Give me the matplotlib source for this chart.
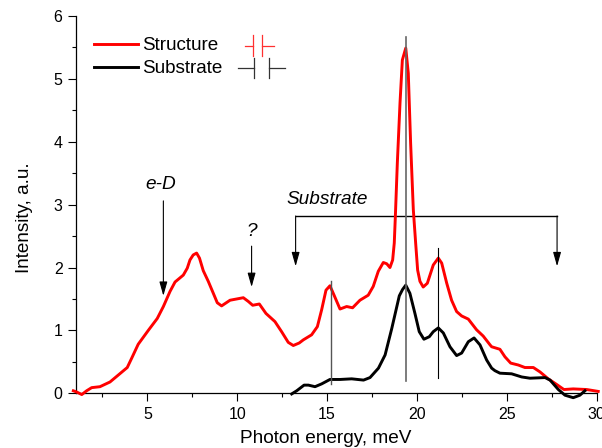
import matplotlib
matplotlib.use("Agg")
import matplotlib.pyplot as plt
from matplotlib.ticker import MultipleLocator

plt.rcParams['font.family'] = ['Liberation Sans', 'DejaVu Sans']

structure_x = [0.88, 1.07, 1.35, 1.62, 1.90, 2.36, 2.92, 3.38, 3.88, 4.13, 4.49, 5.05, 5.55, 5.89, 6.26, 6.54, 7.00, 7.22,
               7.37, 7.55, 7.74, 7.90, 8.11, 8.39, 8.67, 8.89, 9.13, 9.60, 9.97, 10.34, 10.62, 10.86, 11.23, 11.60, 12.10,
               12.47, 12.84, 13.12, 13.45, 13.68, 14.14, 14.46, 14.70, 14.94, 15.16, 15.39, 15.72, 16.09, 16.42, 16.83,
               17.29, 17.57, 17.85, 18.13, 18.32, 18.50, 18.65, 18.74, 18.80, 18.91, 19.06, 19.19, 19.38, 19.52, 19.65,
               19.80, 19.93, 20.04, 20.17, 20.35, 20.58, 20.91, 21.19, 21.38, 21.66, 21.93, 22.21, 22.49, 22.86, 23.32,
               23.69, 24.07, 24.16, 24.62, 24.90, 25.22, 25.64, 26.01, 26.48, 26.85, 27.31, 27.78, 28.18, 28.70, 29.45, 30.09]
structure_y = [0.04, 0.02, -0.02, 0.04, 0.09, 0.105, 0.18, 0.29, 0.41, 0.56, 0.78, 1.00, 1.19, 1.38, 1.62, 1.77, 1.88, 1.99,
               2.12, 2.20, 2.23, 2.15, 1.95, 1.78, 1.59, 1.44, 1.39, 1.48, 1.50, 1.52, 1.46, 1.40, 1.42, 1.27, 1.14,
               0.98, 0.81, 0.76, 0.80, 0.85, 0.93, 1.06, 1.33, 1.64, 1.71, 1.56, 1.34, 1.38, 1.36, 1.48,
               1.56, 1.70, 1.94, 2.08, 2.06, 2.00, 2.12, 2.39, 2.81, 3.66, 4.62, 5.30, 5.49, 5.09, 3.98,
               2.92, 2.39, 1.96, 1.78, 1.69, 1.75, 2.04, 2.15, 2.07, 1.75, 1.48, 1.30, 1.23, 1.18, 1.01,
               0.91, 0.77, 0.74, 0.70, 0.58, 0.48, 0.45, 0.41, 0.41, 0.34, 0.23, 0.14, 0.06, 0.07, 0.06, 0.03]
substrate_x = [13.03, 13.31, 13.72, 13.96, 14.33, 14.70, 15.16, 15.72, 16.37, 17.03, 17.39, 17.86, 18.23, 18.60, 19.02,
               19.20, 19.38, 19.61, 19.89, 20.13, 20.39, 20.69, 20.91, 21.19, 21.47, 21.84, 22.21, 22.49, 22.86, 23.18,
               23.51, 23.88, 24.16, 24.34, 24.62, 25.27, 25.83, 26.29, 27.13, 27.41, 27.87, 28.24, 28.70, 29.07, 29.35]
substrate_y = [-0.01, 0.04, 0.13, 0.13, 0.105, 0.15, 0.22, 0.22, 0.23, 0.21, 0.25, 0.40, 0.61, 1.03, 1.55,
               1.65, 1.72, 1.59, 1.27, 0.98, 0.86, 0.90, 0.98, 1.04, 0.96, 0.74, 0.60, 0.64, 0.82, 0.88,
               0.77, 0.53, 0.40, 0.36, 0.32, 0.31, 0.26, 0.24, 0.25, 0.21, 0.06, -0.03, -0.07, -0.03, 0.04]

x_ticks = [5, 10, 15, 20, 25, 30]
y_ticks = [0, 1, 2, 3, 4, 5, 6]

W, H = 602, 448
fig = plt.figure(figsize=(W / 100, H / 100), dpi=100)
ax = fig.add_axes([75.5 / W, 1 - 393.3 / H, (596.6 - 75.5) / W, (393.3 - 16) / H])
ax.set_xlim(1, 30)
ax.set_ylim(0, 6)

for s in ('top', 'right'):
    ax.spines[s].set_visible(False)
for s in ('left', 'bottom'):
    ax.spines[s].set_linewidth(0.9)

ax.set_xticks(x_ticks)
ax.set_yticks(y_ticks)
ax.xaxis.set_minor_locator(MultipleLocator(2.5))
ax.yaxis.set_minor_locator(MultipleLocator(0.5))
ax.tick_params(which='major', length=5.8, width=0.8, labelsize=11.5, pad=3.5)
ax.tick_params(axis='x', which='major', pad=3.8)
ax.tick_params(which='minor', length=3, width=0.8)

ax.set_xlabel('Photon energy, meV', fontsize=13.7, labelpad=6, x=0.481)
ax.set_ylabel('Intensity, a.u.', fontsize=13.6, labelpad=15, y=0.465)

ax.plot(structure_x, structure_y, color='#ff0000', lw=2.1, clip_on=False, zorder=3, solid_joinstyle='round')
ax.plot(substrate_x, substrate_y, color='black', lw=2.1, clip_on=False, zorder=4, solid_joinstyle='round')

# thin marker lines
ax.plot([15.22, 15.22], [0.15, 1.79], color='#555555', lw=1.0, zorder=5, clip_on=False)
ax.plot([19.39, 19.39], [0.2, 5.67], color='#666666', lw=1.2, zorder=5, clip_on=False)
ax.plot([21.2, 21.2], [0.24, 2.31], color='black', lw=0.8, zorder=5, clip_on=False)

# arrows
def arrow(x, y0, y1):
    ax.annotate('', xy=(x, y1), xytext=(x, y0),
                arrowprops=dict(arrowstyle='-|>,head_length=0.85,head_width=0.24', color='black', lw=0.8,
                                shrinkA=0, shrinkB=0, mutation_scale=10))

arrow(5.89, 3.06, 1.55)
arrow(10.8, 2.34, 1.69)
arrow(13.25, 2.82, 2.02)
arrow(27.8, 2.82, 2.02)
ax.plot([13.25, 27.8], [2.82, 2.82], color='black', lw=1.0)

ax.text(5.74, 3.32, 'e-D', style='italic', fontsize=13.7, ha='center', va='center')
ax.text(10.8, 2.57, '?', style='italic', fontsize=13.7, ha='center', va='center')
ax.text(12.72, 3.08, 'Substrate', style='italic', fontsize=13.7, ha='left', va='center')

# legend
ax.plot([2.04, 4.49], [5.56, 5.56], color='#ff0000', lw=2.1)
ax.plot([2.04, 4.49], [5.19, 5.19], color='black', lw=2.1)
ax.text(4.7, 5.53, 'Structure', fontsize=13.6, ha='left', va='center')
ax.text(4.7, 5.17, 'Substrate', fontsize=13.6, ha='left', va='center')

# capacitor symbols
ax.plot([10.44, 10.89], [5.53, 5.53], color='#ff3030', lw=0.9)
ax.plot([11.38, 12.05], [5.53, 5.53], color='#ff3030', lw=0.9)
ax.plot([10.89, 10.89], [5.36, 5.69], color='#ff3030', lw=0.9)
ax.plot([11.38, 11.38], [5.36, 5.69], color='#ff3030', lw=0.9)
ax.plot([10.04, 10.93], [5.17, 5.17], color='#333333', lw=0.9)
ax.plot([11.75, 12.66], [5.17, 5.17], color='#333333', lw=0.9)
ax.plot([10.93, 10.93], [5.01, 5.33], color='#333333', lw=0.9)
ax.plot([11.75, 11.75], [5.01, 5.33], color='#333333', lw=0.9)

fig.savefig('out.png', dpi=100)
